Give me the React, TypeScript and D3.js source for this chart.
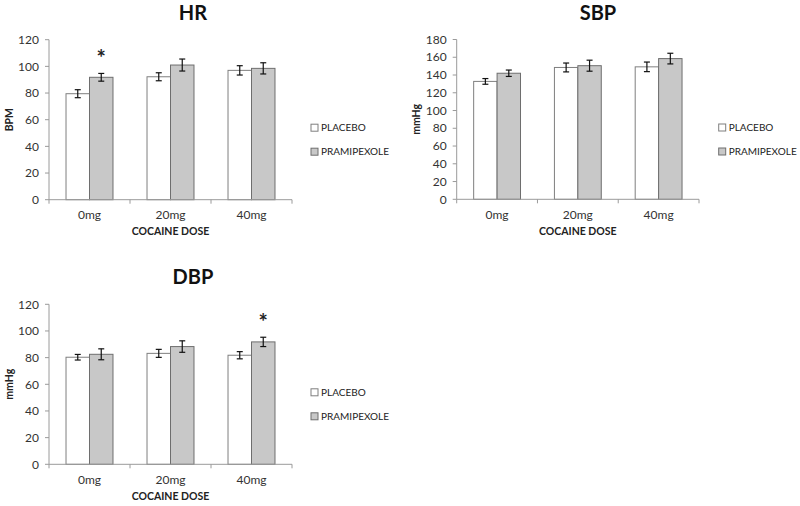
import React from "react";
import * as d3 from "d3";

const categories = ["0mg", "20mg", "40mg"];
const seriesNames = ["PLACEBO", "PRAMIPEXOLE"];

const hrPlacebo = [79.5, 92.2, 97];
const hrPlaceboErr = [3, 3, 3.5];
const hrPrami = [91.8, 101, 98.5];
const hrPramiErr = [2.9, 4.5, 4.2];

const sbpPlacebo = [132.8, 148.5, 149.2];
const sbpPlaceboErr = [3.2, 5, 5.4];
const sbpPrami = [142, 150.5, 158.5];
const sbpPramiErr = [3.6, 6.2, 6];

const dbpPlacebo = [80.3, 83.2, 81.8];
const dbpPlaceboErr = [2.1, 3, 2.7];
const dbpPrami = [82.5, 88.3, 91.8];
const dbpPramiErr = [4.1, 4.3, 3.5];

const hrTicks = [0, 20, 40, 60, 80, 100, 120];
const sbpTicks = [0, 20, 40, 60, 80, 100, 120, 140, 160, 180];
const dbpTicks = [0, 20, 40, 60, 80, 100, 120];

const FONT = "Lato, 'Open Sans', sans-serif";

type PanelProps = {
  title: string;
  yLabel: string;
  left: number;
  right: number;
  top: number;
  bottom: number;
  titleX: number;
  ticks: number[];
  placebo: number[];
  placeboErr: number[];
  prami: number[];
  pramiErr: number[];
  starIndex: number;
};

function Panel(p: PanelProps) {
  const x = d3.scaleBand<string>().domain(categories).range([p.left, p.right]).padding(0);
  const bw = x.bandwidth();
  const groupW = bw * 0.58;
  const inner = d3
    .scaleBand<string>()
    .domain(seriesNames)
    .range([(bw - groupW) / 2, (bw + groupW) / 2])
    .padding(0);
  const yMax = p.ticks[p.ticks.length - 1];
  const y = d3.scaleLinear().domain([0, yMax]).range([p.bottom, p.top]);
  const series = [
    { name: seriesNames[0], vals: p.placebo, errs: p.placeboErr, fill: "#ffffff", stroke: "#7f7f7f" },
    { name: seriesNames[1], vals: p.prami, errs: p.pramiErr, fill: "#c8c8c8", stroke: "#6e6e6e" },
  ];
  const midY = (p.top + p.bottom) / 2;
  const separators = [p.left, ...categories.map((c) => (x(c) as number) + bw)];
  return (
    <g>
      <text x={p.titleX} y={p.top - 20} textAnchor="middle" fontFamily={FONT} fontWeight="bold" fontSize={20} fill="#111">
        {p.title}
      </text>
      <line x1={p.left} x2={p.left} y1={p.top} y2={p.bottom} stroke="#9a9a9a" strokeWidth={1} />
      {p.ticks.map((t) => (
        <g key={t}>
          <line x1={p.left - 4} x2={p.left} y1={y(t)} y2={y(t)} stroke="#9a9a9a" />
          <text x={p.left - 10} y={y(t)} dy="0.35em" textAnchor="end" fontFamily={FONT} fontSize={12} fill="#333">
            {t}
          </text>
        </g>
      ))}
      <text
        transform={`translate(${p.left - 40},${midY}) rotate(-90)`}
        textAnchor="middle"
        dy="0.35em"
        fontFamily={FONT}
        fontWeight="bold"
        fontSize={10.5}
        fill="#222"
      >
        {p.yLabel}
      </text>
      {series.map((s) =>
        categories.map((c, i) => {
          const bx = (x(c) as number) + (inner(s.name) as number);
          const iw = inner.bandwidth();
          const v = s.vals[i];
          const e = s.errs[i];
          const cx = bx + iw / 2;
          return (
            <g key={s.name + c}>
              <rect x={bx} y={y(v)} width={iw} height={p.bottom - y(v)} fill={s.fill} stroke={s.stroke} strokeWidth={1} />
              <line x1={cx} x2={cx} y1={y(v + e)} y2={y(v - e)} stroke="#111" strokeWidth={1.2} />
              <line x1={cx - 3} x2={cx + 3} y1={y(v + e)} y2={y(v + e)} stroke="#111" strokeWidth={1.2} />
              <line x1={cx - 3} x2={cx + 3} y1={y(v - e)} y2={y(v - e)} stroke="#111" strokeWidth={1.2} />
            </g>
          );
        })
      )}
      <line x1={p.left} x2={p.right} y1={p.bottom} y2={p.bottom} stroke="#9a9a9a" strokeWidth={1} />
      {separators.map((sx, i) => (
        <line key={i} x1={sx} x2={sx} y1={p.bottom} y2={p.bottom + 4} stroke="#9a9a9a" />
      ))}
      {categories.map((c) => (
        <text
          key={c}
          x={(x(c) as number) + bw / 2}
          y={p.bottom + 15}
          dy="0.35em"
          textAnchor="middle"
          fontFamily={FONT}
          fontSize={12}
          fill="#333"
        >
          {c}
        </text>
      ))}
      <text
        x={(p.left + p.right) / 2}
        y={p.bottom + 32}
        dy="0.35em"
        textAnchor="middle"
        fontFamily={FONT}
        fontWeight="bold"
        fontSize={10.5}
        fill="#222"
      >
        COCAINE DOSE
      </text>
      {p.starIndex >= 0 && (
        <text
          x={(x(categories[p.starIndex]) as number) + (inner(seriesNames[1]) as number) + inner.bandwidth() / 2}
          y={y(p.prami[p.starIndex] + p.pramiErr[p.starIndex]) - 7}
          textAnchor="middle"
          fontFamily={FONT}
          fontWeight="bold"
          fontSize={22}
          fill="#222"
        >
          *
        </text>
      )}
      {series.map((s, i) => (
        <g key={s.name} transform={`translate(${p.left + 262},${p.top + 88 + i * 24})`}>
          <rect x={0} y={-3.5} width={7} height={7} fill={s.fill} stroke={s.stroke} />
          <text x={10} y={0} dy="0.35em" fontFamily={FONT} fontSize={10} fill="#222">
            {s.name}
          </text>
        </g>
      ))}
    </g>
  );
}

export default function App() {
  return (
    <svg width={800} height={506} style={{ position: "absolute", left: 0, top: 0, background: "#fff" }}>
      <rect width={800} height={506} fill="#fff" />
      <Panel
        title="HR"
        yLabel="BPM"
        left={49}
        right={292}
        top={39.7}
        bottom={199.7}
        titleX={193}
        ticks={hrTicks}
        placebo={hrPlacebo}
        placeboErr={hrPlaceboErr}
        prami={hrPrami}
        pramiErr={hrPramiErr}
        starIndex={0}
      />
      <Panel
        title="SBP"
        yLabel="mmHg"
        left={456.7}
        right={699}
        top={39.5}
        bottom={199.3}
        titleX={598}
        ticks={sbpTicks}
        placebo={sbpPlacebo}
        placeboErr={sbpPlaceboErr}
        prami={sbpPrami}
        pramiErr={sbpPramiErr}
        starIndex={-1}
      />
      <Panel
        title="DBP"
        yLabel="mmHg"
        left={49}
        right={292}
        top={304.3}
        bottom={464.3}
        titleX={193}
        ticks={dbpTicks}
        placebo={dbpPlacebo}
        placeboErr={dbpPlaceboErr}
        prami={dbpPrami}
        pramiErr={dbpPramiErr}
        starIndex={2}
      />
    </svg>
  );
}
